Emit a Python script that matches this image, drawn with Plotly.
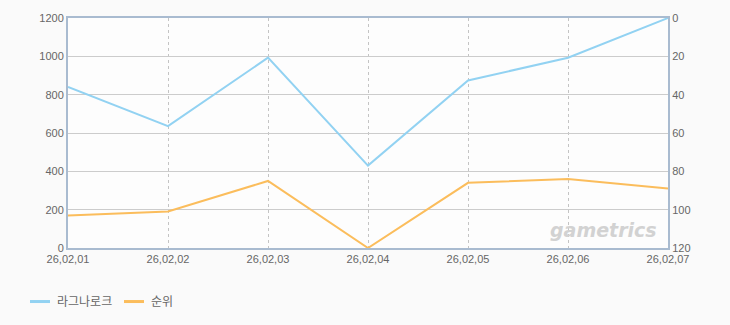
import plotly.graph_objects as go

dates = ["26,02,01", "26,02,02", "26,02,03", "26,02,04", "26,02,05", "26,02,06", "26,02,07"]
ragnarok = [840, 636, 993, 430, 874, 993, 1200]
rank = [103, 101, 85, 120, 86, 84, 89]
left_ticks = [0, 200, 400, 600, 800, 1000, 1200]
right_ticks = [0, 20, 40, 60, 80, 100, 120]
series_names = ["라그나로크", "순위"]
series_colors = ["#92d2f2", "#fbbd5c"]

xs = list(range(len(dates)))
axis_col = "#a9bbd0"
tick_font = dict(family="Liberation Sans, DejaVu Sans, sans-serif", size=11, color="#666666")

fig = go.Figure()
fig.add_trace(go.Scatter(x=xs, y=ragnarok, mode="lines", name=series_names[0],
                         line=dict(color=series_colors[0], width=2), yaxis="y"))
fig.add_trace(go.Scatter(x=xs, y=rank, mode="lines", name=series_names[1],
                         line=dict(color=series_colors[1], width=2), yaxis="y2"))

# custom legend (paper coords: plot area 600x232 px starting at x=68, y bottom=248)
def px_x(p):
    return (p - 68) / 600.0

def px_y(p):
    return (248 - p) / 232.0

shapes = []
annotations = []
legend_items = [(30, 50, 55), (124, 144, 149)]
for (x0, x1, tx), name, col in zip(legend_items, series_names, series_colors):
    shapes.append(dict(type="line", xref="paper", yref="paper",
                       x0=px_x(x0), x1=px_x(x1), y0=px_y(302), y1=px_y(302),
                       line=dict(color=col, width=3)))
    annotations.append(dict(text=name, xref="paper", yref="paper", x=px_x(tx), y=px_y(301),
                            xanchor="left", yanchor="middle", showarrow=False,
                            font=dict(family="Noto Sans CJK KR, sans-serif", size=12, color="#666666")))

annotations.append(dict(text="<b><i>gametrics</i></b>", xref="paper", yref="paper",
                        x=0.985, y=0.08, xanchor="right", yanchor="middle", showarrow=False,
                        font=dict(family="DejaVu Sans, sans-serif", size=19, color="#d2d2d2")))

fig.update_layout(
    width=730, height=325,
    margin=dict(l=68, r=62, t=16, b=77),
    paper_bgcolor="#fafafa",
    plot_bgcolor="#fdfdfd",
    showlegend=False,
    xaxis=dict(range=[0, 6], tickvals=xs, ticktext=dates, showgrid=True,
               gridcolor="#c4c4c4", griddash="3px,3px", gridwidth=1,
               showline=True, linecolor=axis_col, linewidth=2, mirror=True,
               zeroline=False, tickfont=tick_font, ticks="", ticklen=0),
    yaxis=dict(range=[0, 1200], tickvals=left_ticks, showgrid=True, gridcolor="#cccccc",
               gridwidth=1, showline=True, linecolor=axis_col, linewidth=2, mirror=True,
               zeroline=False, tickfont=tick_font, ticks="", ticklen=0),
    yaxis2=dict(range=[120, 0], tickvals=right_ticks, overlaying="y", side="right",
                showgrid=False, showline=True, linecolor=axis_col, linewidth=2,
                zeroline=False, tickfont=tick_font, ticks="", ticklen=0),
    shapes=shapes,
    annotations=annotations,
)

fig.write_html("out.html")
